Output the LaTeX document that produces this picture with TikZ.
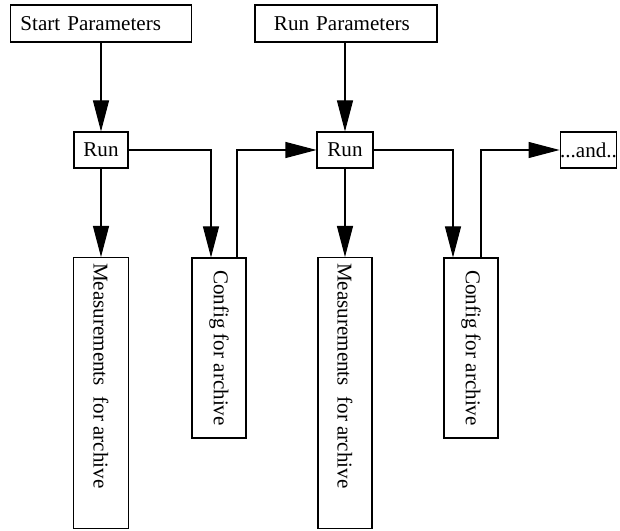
\documentclass[tikz,border=0pt]{standalone}
\usepackage{fontspec}
\setmainfont{Liberation Serif}
\usepackage{graphicx}
\usetikzlibrary{arrows.meta}

\begin{document}
\begin{tikzpicture}[
    box/.style={draw, line width=0.6pt, inner sep=0pt, minimum width=#1},
    box/.default=1.08cm,
    arr/.style={line width=0.6pt, -{Triangle[length=0.62cm,width=0.32cm]}},
    font=\fontsize{12}{14}\selectfont]
    \useasboundingbox (0,0) rectangle (12.4,10.62);

    % Parametros
    \node[box=3.62cm, minimum height=0.74cm, text width=3.22cm, align=left] (start) at (2.02,10.15) {Start Parameters};
    \node[box=3.64cm, minimum height=0.74cm, text width=2.88cm, align=left] (runpar) at (6.92,10.15) {Run Parameters};

    % Ejecuciones
    \node[box, minimum height=0.72cm] (run1) at (2.02,7.62) {Run};
    \node[box=1.12cm, minimum height=0.72cm] (run2) at (6.9,7.62) {Run};
    \node[box=1.1cm, minimum height=0.72cm] (andnode) at (11.77,7.62) {...and..};

    % Archivos
    \node[box=1.1cm, minimum height=5.42cm, anchor=north] (meas1) at (2.02,5.48) {\rotatebox{-90}{\makebox[5.2cm][l]{Measurements\ \ for archive}}};
    \node[box, minimum height=3.6cm] (cfg1) at (4.38,3.66) {\rotatebox{-90}{Config for archive}};
    \node[box, minimum height=5.42cm, anchor=north] (meas2) at (6.9,5.48) {\rotatebox{-90}{\makebox[5.2cm][l]{Measurements\ \ for archive}}};
    \node[box, minimum height=3.6cm] (cfg2) at (9.42,3.66) {\rotatebox{-90}{Config for archive}};

    % Flechas
    \draw[arr] (start) -- (run1);
    \draw[arr] (runpar.south -| run2) -- (run2);
    \draw[arr] (run1) -- (meas1);
    \draw[arr] (run2) -- (meas2);
    \draw[arr] (run1.east) -| ([xshift=-0.16cm]cfg1.north);
    \draw[arr] ([xshift=0.36cm]cfg1.north) |- (run2.west);
    \draw[arr] (run2.east) -| ([xshift=-0.36cm]cfg2.north);
    \draw[arr] ([xshift=0.2cm]cfg2.north) |- (andnode.west);
\end{tikzpicture}
\end{document}
